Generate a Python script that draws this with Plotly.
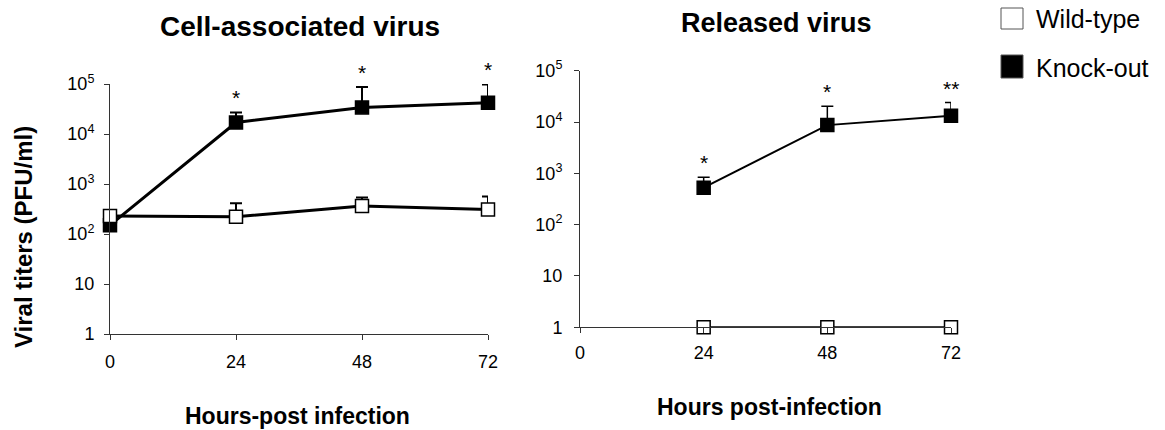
import plotly.graph_objects as go
import math

# ---------------- data ----------------
hours = [0, 24, 48, 72]
tick_hours = [0, 24, 48, 72]

# Cell-associated virus (PFU/ml)
cell_wt = [230, 222, 363, 310]
cell_wt_top = [230, 410, 535, 560]          # upper error bar ends
cell_ko = [150, 17000, 34000, 42000]
cell_ko_top = [150, 27000, 87000, 98000]
cell_sig_hours = [24, 48, 72]
cell_sig_labels = ["*", "*", "*"]

# Released virus (PFU/ml)
rel_hours = [24, 48, 72]
rel_wt = [1, 1, 1]
rel_ko = [525, 8700, 13200]
rel_ko_top = [840, 20400, 24000]
rel_sig_hours = [24, 48, 72]
rel_sig_labels = ["*", "*", "**"]

y_tickvals = [1, 10, 100, 1000, 10000, 100000]
y_ticktext = ["1", "10", "10<sup>2</sup>", "10<sup>3</sup>", "10<sup>4</sup>", "10<sup>5</sup>"]

titles = ["Cell-associated virus", "Released virus"]
x_titles = ["Hours-post infection", "Hours post-infection"]
y_title = "Viral titers (PFU/ml)"
legend_names = ["Wild-type", "Knock-out"]

# ---------------- layout helpers ----------------
W, H = 1165, 430
FONT = "Liberation Sans, Arial, Helvetica, sans-serif"


def px(x):
    return x / W


def py(y):
    return 1 - y / H


fig = go.Figure()


def add_series(xs, ys, tops, xa, ya, fill, lw, ew):
    plus = [t - v for t, v in zip(tops, ys)] if tops is not None else None
    fig.add_trace(go.Scatter(
        x=xs, y=ys, xaxis=xa, yaxis=ya, mode="lines+markers",
        line=dict(color="black", width=lw),
        marker=dict(symbol="square", size=13, color=fill,
                    line=dict(color="black", width=1.5)),
        error_y=dict(type="data", symmetric=False, array=plus,
                     arrayminus=[0] * len(ys), color="black",
                     thickness=ew, width=6) if plus is not None else None,
        cliponaxis=False, showlegend=False, hoverinfo="skip",
    ))


# left panel: knock-out first, wild-type on top
add_series(hours, cell_ko, cell_ko_top, "x", "y", "black", 3, 2)
add_series(hours, cell_wt, cell_wt_top, "x", "y", "white", 3, 2)
# right panel
add_series(rel_hours, rel_ko, rel_ko_top, "x2", "y2", "black", 2, 1.5)
add_series(rel_hours, rel_wt, None, "x2", "y2", "white", 2, 1.5)

axis_common = dict(
    showline=True, linecolor="#333333", linewidth=1,
    ticks="outside", ticklen=5, tickcolor="#333333", tickwidth=1,
    showgrid=False, zeroline=False, automargin=False,
    tickfont=dict(family=FONT, size=18, color="black"),
)

fig.update_layout(
    template="none",
    width=W, height=H, autosize=False,
    margin=dict(l=0, r=0, t=0, b=0, pad=0, autoexpand=False),
    showlegend=False,
    paper_bgcolor="white", plot_bgcolor="white",
    xaxis=dict(domain=[px(110), px(488)], range=[0, 72], anchor="y",
               tickvals=tick_hours, ticklabelstandoff=6, **axis_common),
    yaxis=dict(domain=[py(334), py(84)], type="log", range=[0, 5], anchor="x",
               tickvals=y_tickvals, ticktext=y_ticktext, ticklabelstandoff=6,
               **axis_common),
    xaxis2=dict(domain=[px(580), px(951)], range=[0, 72], anchor="y2",
                tickvals=tick_hours, ticklabelstandoff=4, **axis_common),
    yaxis2=dict(domain=[py(327.3), py(70.7)], type="log", range=[0, 5], anchor="x2",
                tickvals=y_tickvals, ticktext=y_ticktext, ticklabelstandoff=8,
                **axis_common),
)

ann = []
# significance stars above error bars
for h, lab in zip(cell_sig_hours, cell_sig_labels):
    top = cell_ko_top[hours.index(h)]
    ann.append(dict(x=h, y=math.log10(top), xref="x", yref="y", text=lab,
                    showarrow=False, yanchor="bottom", yshift=1,
                    font=dict(family=FONT, size=21, color="black")))
for h, lab in zip(rel_sig_hours, rel_sig_labels):
    top = rel_ko_top[rel_hours.index(h)]
    ann.append(dict(x=h, y=math.log10(top), xref="x2", yref="y2", text=lab,
                    showarrow=False, yanchor="bottom", yshift=1,
                    font=dict(family=FONT, size=21, color="black")))

# titles
ann.append(dict(x=px(300), y=py(27), xref="paper", yref="paper", text="<b>" + titles[0] + "</b>",
                showarrow=False, xanchor="center", yanchor="middle",
                font=dict(family=FONT, size=28, color="black")))
ann.append(dict(x=px(776), y=py(23), xref="paper", yref="paper", text="<b>" + titles[1] + "</b>",
                showarrow=False, xanchor="center", yanchor="middle",
                font=dict(family=FONT, size=27, color="black")))
# x-axis titles
ann.append(dict(x=px(297), y=py(416), xref="paper", yref="paper", text="<b>" + x_titles[0] + "</b>",
                showarrow=False, xanchor="center", yanchor="middle",
                font=dict(family=FONT, size=23, color="black")))
ann.append(dict(x=px(769), y=py(407), xref="paper", yref="paper", text="<b>" + x_titles[1] + "</b>",
                showarrow=False, xanchor="center", yanchor="middle",
                font=dict(family=FONT, size=23, color="black")))
# y-axis title
ann.append(dict(x=px(24), y=py(237), xref="paper", yref="paper", text="<b>" + y_title + "</b>",
                showarrow=False, xanchor="center", yanchor="middle", textangle=-90,
                font=dict(family=FONT, size=24, color="black")))

# legend (manual)
shapes = []
legend_rows = [(8, 29, "white"), (55, 78, "black")]
for (y0, y1, fill), name in zip(legend_rows, legend_names):
    shapes.append(dict(type="rect", xref="paper", yref="paper",
                       x0=px(1001), x1=px(1023), y0=py(y1), y1=py(y0),
                       fillcolor=fill, line=dict(color="#555555", width=1)))
    ann.append(dict(x=px(1034), y=py((y0 + y1) / 2 + 1), xref="paper", yref="paper", text=name,
                    showarrow=False, xanchor="left", yanchor="middle",
                    font=dict(family=FONT, size=25, color="black")))

fig.update_layout(annotations=ann, shapes=shapes)
fig.write_html(
    "out.html",
    config={"displayModeBar": False, "staticPlot": True},
    post_script="document.body.style.margin='0';document.body.style.overflow='hidden';",
)
